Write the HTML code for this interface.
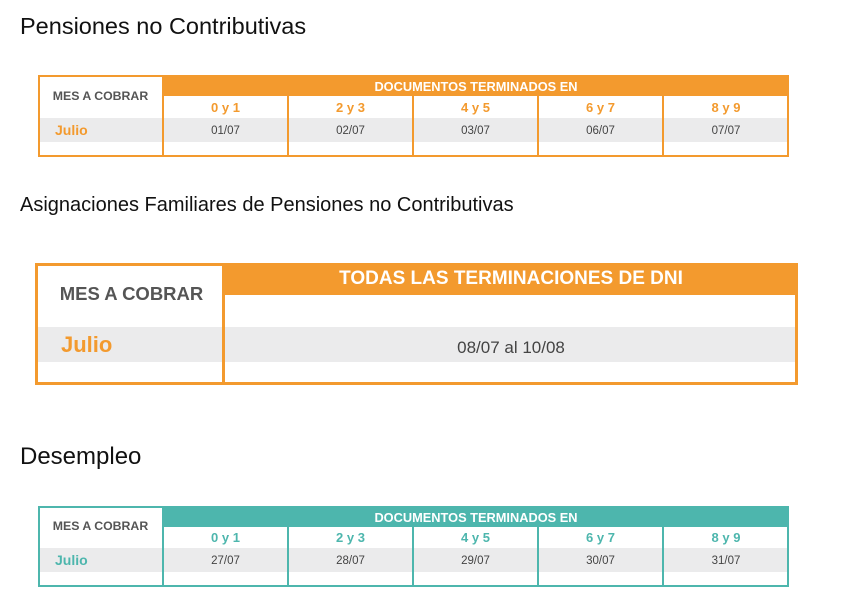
<!DOCTYPE html>
<html><head><meta charset="utf-8"><style>
body{margin:0;width:859px;height:613px;background:#fff;position:relative;font-family:"Liberation Sans",sans-serif;overflow:hidden}
div{position:absolute;box-sizing:border-box}
.t{white-space:nowrap}
.c{text-align:center}
</style></head><body>
<div class="t" style="left:20px;top:13px;font-size:23.5px;color:#111">Pensiones no Contributivas</div>
<div class="t" style="left:20px;top:194px;font-size:20px;color:#111">Asignaciones Familiares de Pensiones no Contributivas</div>
<div class="t" style="left:20px;top:443px;font-size:24px;color:#111">Desempleo</div>

<!-- Table 1 -->
<div style="left:38px;top:118px;width:751px;height:24px;background:#ebebec"></div>
<div style="left:163px;top:75px;width:626px;height:21px;background:#f39a2e"></div>
<div class="t c" style="left:163px;top:79px;width:626px;font-size:12.8px;font-weight:bold;color:#fff">DOCUMENTOS TERMINADOS EN</div>
<div style="left:38px;top:75px;width:751px;height:82px;border:2px solid #f39a2e"></div>
<div style="left:162px;top:75px;width:2px;height:82px;background:#f39a2e"></div>
<div style="left:287px;top:96px;width:2px;height:61px;background:#f39a2e"></div>
<div style="left:412px;top:96px;width:2px;height:61px;background:#f39a2e"></div>
<div style="left:537px;top:96px;width:2px;height:61px;background:#f39a2e"></div>
<div style="left:662px;top:96px;width:2px;height:61px;background:#f39a2e"></div>
<div class="t c" style="left:38px;top:89px;width:125px;font-size:12.3px;font-weight:bold;color:#555">MES A COBRAR</div>
<div class="t" style="left:55px;top:122px;font-size:14px;font-weight:bold;color:#f39a2e">Julio</div>
<div class="t c" style="left:163px;top:100px;width:125px;font-size:13px;font-weight:bold;color:#f39a2e">0 y 1</div>
<div class="t c" style="left:288px;top:100px;width:125px;font-size:13px;font-weight:bold;color:#f39a2e">2 y 3</div>
<div class="t c" style="left:413px;top:100px;width:125px;font-size:13px;font-weight:bold;color:#f39a2e">4 y 5</div>
<div class="t c" style="left:538px;top:100px;width:125px;font-size:13px;font-weight:bold;color:#f39a2e">6 y 7</div>
<div class="t c" style="left:663px;top:100px;width:126px;font-size:13px;font-weight:bold;color:#f39a2e">8 y 9</div>
<div class="t c" style="left:163px;top:125px;width:125px;font-size:11.5px;color:#444">01/07</div>
<div class="t c" style="left:288px;top:125px;width:125px;font-size:11.5px;color:#444">02/07</div>
<div class="t c" style="left:413px;top:125px;width:125px;font-size:11.5px;color:#444">03/07</div>
<div class="t c" style="left:538px;top:125px;width:125px;font-size:11.5px;color:#444">06/07</div>
<div class="t c" style="left:663px;top:125px;width:126px;font-size:11.5px;color:#444">07/07</div>

<!-- Table 2 -->
<div style="left:35px;top:327px;width:763px;height:35px;background:#ebebec"></div>
<div style="left:224px;top:263px;width:574px;height:32px;background:#f39a2e"></div>
<div class="t c" style="left:224px;top:268px;width:574px;font-size:19px;font-weight:bold;color:#fff">TODAS LAS TERMINACIONES DE DNI</div>
<div style="left:35px;top:263px;width:763px;height:122px;border:3px solid #f39a2e"></div>
<div style="left:222px;top:263px;width:3px;height:122px;background:#f39a2e"></div>
<div class="t c" style="left:37px;top:283px;width:189px;font-size:18.5px;font-weight:bold;color:#555">MES A COBRAR</div>
<div class="t" style="left:61px;top:332px;font-size:22px;font-weight:bold;color:#f39a2e">Julio</div>
<div class="t c" style="left:224px;top:338px;width:574px;font-size:17px;color:#444">08/07 al 10/08</div>

<!-- Table 3 -->
<div style="left:38px;top:548px;width:751px;height:24px;background:#ebebec"></div>
<div style="left:163px;top:506px;width:626px;height:21px;background:#4db6ad"></div>
<div class="t c" style="left:163px;top:510px;width:626px;font-size:12.8px;font-weight:bold;color:#fff">DOCUMENTOS TERMINADOS EN</div>
<div style="left:38px;top:506px;width:751px;height:81px;border:2px solid #4db6ad"></div>
<div style="left:162px;top:506px;width:2px;height:81px;background:#4db6ad"></div>
<div style="left:287px;top:527px;width:2px;height:60px;background:#4db6ad"></div>
<div style="left:412px;top:527px;width:2px;height:60px;background:#4db6ad"></div>
<div style="left:537px;top:527px;width:2px;height:60px;background:#4db6ad"></div>
<div style="left:662px;top:527px;width:2px;height:60px;background:#4db6ad"></div>
<div class="t c" style="left:38px;top:519px;width:125px;font-size:12.3px;font-weight:bold;color:#555">MES A COBRAR</div>
<div class="t" style="left:55px;top:552px;font-size:14px;font-weight:bold;color:#4db6ad">Julio</div>
<div class="t c" style="left:163px;top:530px;width:125px;font-size:13px;font-weight:bold;color:#4db6ad">0 y 1</div>
<div class="t c" style="left:288px;top:530px;width:125px;font-size:13px;font-weight:bold;color:#4db6ad">2 y 3</div>
<div class="t c" style="left:413px;top:530px;width:125px;font-size:13px;font-weight:bold;color:#4db6ad">4 y 5</div>
<div class="t c" style="left:538px;top:530px;width:125px;font-size:13px;font-weight:bold;color:#4db6ad">6 y 7</div>
<div class="t c" style="left:663px;top:530px;width:126px;font-size:13px;font-weight:bold;color:#4db6ad">8 y 9</div>
<div class="t c" style="left:163px;top:555px;width:125px;font-size:11.5px;color:#444">27/07</div>
<div class="t c" style="left:288px;top:555px;width:125px;font-size:11.5px;color:#444">28/07</div>
<div class="t c" style="left:413px;top:555px;width:125px;font-size:11.5px;color:#444">29/07</div>
<div class="t c" style="left:538px;top:555px;width:125px;font-size:11.5px;color:#444">30/07</div>
<div class="t c" style="left:663px;top:555px;width:126px;font-size:11.5px;color:#444">31/07</div>
</body></html>
